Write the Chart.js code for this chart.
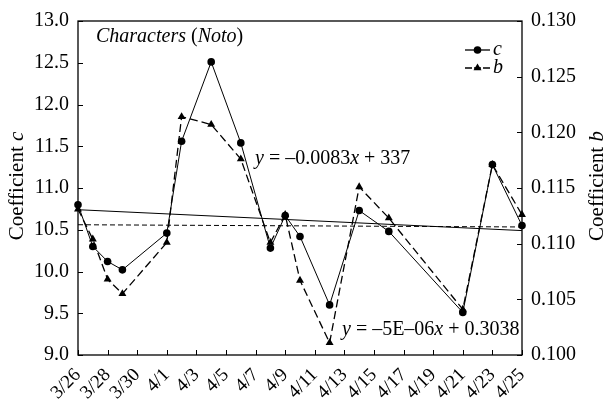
<!DOCTYPE html>
<html>
<head>
<meta charset="utf-8">
<script src="https://cdn.jsdelivr.net/npm/chart.js@4.4.1/dist/chart.umd.min.js"></script>
<style>
  body { margin: 0; background: #fff; }
  canvas { display: block; }
</style>
</head>
<body>
<canvas id="myChart" width="606" height="405"></canvas>
<script>
// sampling dates and the two coefficients
const pointDates = ["3/26", "3/27", "3/28", "3/29", "4/1", "4/2", "4/4", "4/6", "4/8", "4/9", "4/10", "4/12", "4/14", "4/16", "4/21", "4/23", "4/25"];
const cValues = [10.80, 10.30, 10.12, 10.02, 10.46, 11.56, 12.51, 11.54, 10.28, 10.67, 10.42, 9.60, 10.73, 10.48, 9.51, 11.28, 10.55];
const bValues = [0.1131, 0.1104, 0.1068, 0.1055, 0.1101, 0.1214, 0.1207, 0.1176, 0.1101, 0.1126, 0.1067, 0.1011, 0.1151, 0.1123, 0.1041, 0.1171, 0.1126];

// linear trend lines, read at both ends (3/26 and 4/25)
const trendDates = ["3/26", "4/25"];
const cTrend = [10.74, 10.49];
const bTrend = [0.1117, 0.1115];

const tickLabels = ["3/26", "3/28", "3/30", "4/1", "4/3", "4/5", "4/7", "4/9", "4/11", "4/13", "4/15", "4/17", "4/19", "4/21", "4/23", "4/25"];

const FONT = '"Liberation Serif", "Times New Roman", serif';

// days after 3/26
const dayOf = (s) => {
    const [m, d] = s.split("/").map(Number);
    return m === 3 ? d - 26 : d + 5;
};

const toPoints = (dates, values) => dates.map((d, i) => ({ x: dayOf(d), y: values[i] }));

const drawRich = (ctx, parts, x, y, size) => {
    let cx = x;
    parts.forEach(([t, it]) => {
        ctx.font = (it ? "italic " : "") + size + "px " + FONT;
        ctx.fillText(t, cx, y);
        cx += ctx.measureText(t).width;
    });
    return cx - x;
};

const richWidth = (ctx, parts, size) => {
    let w = 0;
    parts.forEach(([t, it]) => {
        ctx.font = (it ? "italic " : "") + size + "px " + FONT;
        w += ctx.measureText(t).width;
    });
    return w;
};

const vTitle = (ctx, parts, cx, cy, size) => {
    ctx.save();
    ctx.translate(cx, cy);
    ctx.rotate(-Math.PI / 2);
    ctx.textBaseline = "middle";
    const w = richWidth(ctx, parts, size);
    drawRich(ctx, parts, -w / 2, 0, size);
    ctx.restore();
};

const framePlugin = {
    id: "frame",
    beforeDatasetsDraw(chart) {
        const { ctx, chartArea: a, scales } = chart;
        ctx.save();
        ctx.strokeStyle = "#000";
        ctx.lineWidth = 1.3;
        ctx.strokeRect(a.left, a.top, a.right - a.left, a.bottom - a.top);
        ctx.lineWidth = 1;
        ctx.beginPath();
        scales.x.ticks.forEach((t) => {
            const px = Math.round(scales.x.getPixelForValue(t.value)) + 0.5;
            ctx.moveTo(px, a.bottom);
            ctx.lineTo(px, a.bottom - 5);
        });
        scales.yc.ticks.forEach((t) => {
            const py = Math.round(scales.yc.getPixelForValue(t.value)) + 0.5;
            ctx.moveTo(a.left, py);
            ctx.lineTo(a.left + 5, py);
        });
        scales.yb.ticks.forEach((t) => {
            const py = Math.round(scales.yb.getPixelForValue(t.value)) + 0.5;
            ctx.moveTo(a.right, py);
            ctx.lineTo(a.right - 5, py);
        });
        ctx.stroke();
        ctx.restore();
    },
    afterDraw(chart) {
        const { ctx } = chart;
        ctx.save();
        ctx.fillStyle = "#000";
        ctx.textBaseline = "alphabetic";

        drawRich(ctx, [["Characters", 1], [" (", 0], ["Noto", 1], [")", 0]], 96, 42, 20);
        drawRich(ctx, [["y", 1], [" = \u20130.0083", 0], ["x", 1], [" + 337", 0]], 255, 164, 20);
        drawRich(ctx, [["y", 1], [" = \u20135E\u201306", 0], ["x", 1], [" + 0.3038", 0]], 342, 335, 20);

        vTitle(ctx, [["Coefficient ", 0], ["c", 1]], 17, 186, 21);
        vTitle(ctx, [["Coefficient ", 0], ["b", 1]], 597, 186, 21);

        // legend
        ctx.strokeStyle = "#000";
        ctx.lineWidth = 1.3;
        ctx.beginPath();
        ctx.moveTo(465, 50);
        ctx.lineTo(490, 50);
        ctx.stroke();
        ctx.beginPath();
        ctx.arc(477.5, 50, 3.8, 0, Math.PI * 2);
        ctx.fill();
        ctx.setLineDash([7, 2]);
        ctx.beginPath();
        ctx.moveTo(465, 68);
        ctx.lineTo(490, 68);
        ctx.stroke();
        ctx.setLineDash([]);
        ctx.beginPath();
        ctx.moveTo(477.5, 63.4);
        ctx.lineTo(481.5, 70.3);
        ctx.lineTo(473.5, 70.3);
        ctx.closePath();
        ctx.fill();
        drawRich(ctx, [["c", 1]], 493, 55, 20);
        drawRich(ctx, [["b", 1]], 493, 73, 20);
        ctx.restore();
    }
};

const config = {
    type: "line",
    data: {
        datasets: [
            {
                label: "c",
                data: toPoints(pointDates, cValues),
                yAxisID: "yc",
                borderColor: "#000",
                backgroundColor: "#000",
                borderWidth: 1,
                pointStyle: "circle",
                pointRadius: 3.8,
                pointBorderWidth: 0,
                clip: false,
            },
            {
                label: "b",
                data: toPoints(pointDates, bValues),
                yAxisID: "yb",
                borderColor: "#000",
                backgroundColor: "#000",
                borderWidth: 1.3,
                borderDash: [8, 4],
                pointStyle: "triangle",
                pointRadius: 4.6,
                pointBorderWidth: 0,
                clip: false,
            },
            {
                label: "c trend",
                data: toPoints(trendDates, cTrend),
                yAxisID: "yc",
                borderColor: "#000",
                borderWidth: 1,
                pointRadius: 0,
            },
            {
                label: "b trend",
                data: toPoints(trendDates, bTrend),
                yAxisID: "yb",
                borderColor: "#000",
                borderWidth: 1,
                borderDash: [5, 3],
                pointRadius: 0,
            },
        ],
    },
    options: {
        responsive: false,
        animation: false,
        layout: { padding: { top: 17, left: 0, right: 0, bottom: 0 } },
        plugins: { legend: { display: false }, tooltip: { enabled: false } },
        scales: {
            x: {
                type: "linear",
                min: 0,
                max: 30,
                grid: { display: false, drawTicks: false },
                border: { display: false },
                afterFit: (s) => { s.height = 50; },
                ticks: {
                    stepSize: 2,
                    autoSkip: false,
                    maxRotation: 45,
                    minRotation: 45,
                    padding: 9,
                    color: "#000",
                    font: { family: FONT, size: 19 },
                    callback: (v) => tickLabels[v / 2],
                },
            },
            yc: {
                position: "left",
                min: 9,
                max: 13,
                grid: { display: false, drawTicks: false },
                border: { display: false },
                afterFit: (s) => { s.width = 78; },
                ticks: {
                    stepSize: 0.5,
                    padding: 9,
                    color: "#000",
                    font: { family: FONT, size: 20 },
                    callback: (v) => v.toFixed(1),
                },
            },
            yb: {
                position: "right",
                min: 0.1,
                max: 0.13,
                grid: { display: false, drawTicks: false },
                border: { display: false },
                afterFit: (s) => { s.width = 84; },
                ticks: {
                    stepSize: 0.005,
                    padding: 9,
                    color: "#000",
                    font: { family: FONT, size: 20 },
                    callback: (v) => v.toFixed(3),
                },
            },
        },
    },
    plugins: [framePlugin],
};

const myChart = new Chart(document.getElementById("myChart"), config);
</script>
</body>
</html>
